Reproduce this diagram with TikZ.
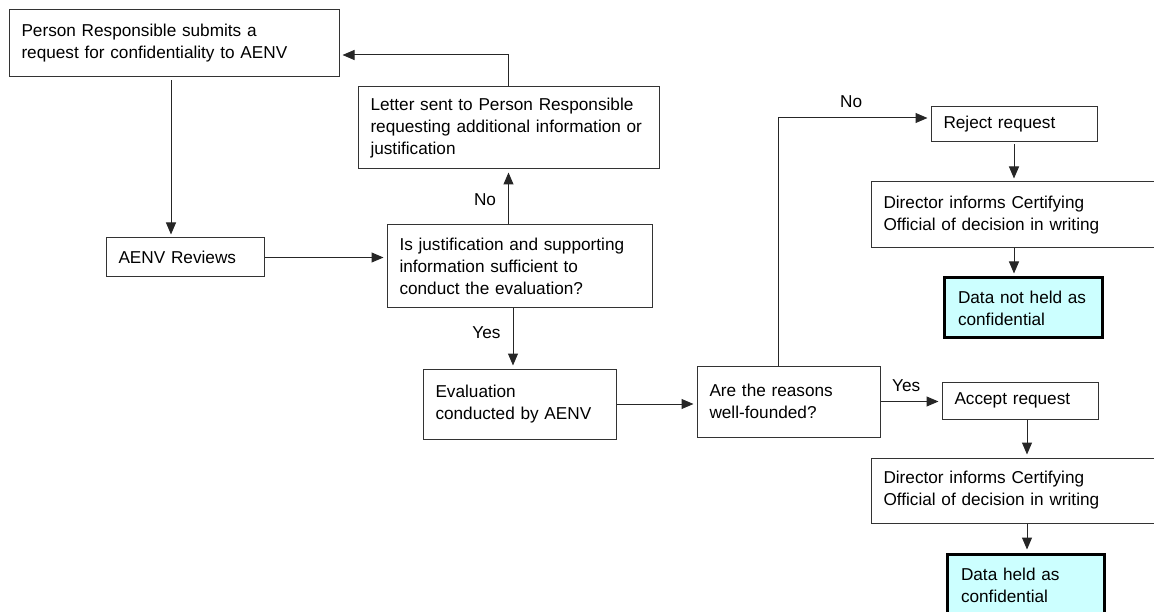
\documentclass[tikz,border=0pt]{standalone}
\usepackage{fontspec}
\setmainfont{Liberation Sans}
\usetikzlibrary{arrows.meta}
\begin{document}
\begin{tikzpicture}[x=1pt,y=-1pt,
  box/.style={draw=black!80, line width=1pt, fill=white, inner xsep=12.5pt, inner ysep=0pt,
    align=left, font=\fontsize{17.2}{22}\selectfont, anchor=center},
  endbox/.style={box, draw=black, line width=3pt, inner xsep=14pt},
  arr/.style={draw=black!85, line width=1pt, -{Triangle[length=12pt,width=10pt]}, shorten >=3pt},
  lbl/.style={font=\fontsize{17.2}{22}\selectfont, inner sep=0pt}]
\useasboundingbox (0,0) rectangle (1154,612);
\clip (0,0) rectangle (1154,612);
\definecolor{endfill}{HTML}{CCFFFF}
\tikzset{endbox/.append style={fill=endfill}}
\newcommand{\bx}[7]{\node[#1, minimum width=#5, minimum height=#6, text width=#7] (#2) at (#3,#4)}
\bx{box}{req}{174}{43.5}{330pt}{67pt}{305pt}{Person Responsible submits a\\request for confidentiality to AENV};
\bx{box}{letter}{508.5}{128}{301pt}{82pt}{276pt}{Letter sent to Person Responsible\\requesting additional information or\\justification};
\bx{box}{rev}{185}{257.5}{158pt}{39pt}{133pt}{AENV Reviews};
\bx{box}{dec}{519.5}{266.5}{265pt}{83pt}{240pt}{Is justification and supporting\\information sufficient to\\conduct the evaluation?};
\bx{box}{eval}{519.5}{404}{193pt}{70pt}{168pt}{Evaluation\\conducted by AENV};
\bx{box}{reas}{788.5}{401.5}{183pt}{71pt}{158pt}{Are the reasons\\well-founded?};
\bx{box}{rej}{1014}{124.5}{166pt}{35pt}{141pt}{Reject request};
\bx{box}{dir1}{1018}{215}{294pt}{66pt}{269pt}{Director informs Certifying\\Official of decision in writing};
\bx{endbox}{nheld}{1023}{308}{158pt}{60pt}{130pt}{Data not held as\\confidential};
\bx{box}{acc}{1020}{400.5}{156pt}{37pt}{131pt}{Accept request};
\bx{box}{dir2}{1018}{490.5}{294pt}{65pt}{269pt}{Director informs Certifying\\Official of decision in writing};
\bx{endbox}{held}{1025.5}{585}{157pt}{62pt}{129pt}{Data held as\\confidential};
\coordinate (ax) at ([xshift=7pt]acc.south);
% connectors
\draw[arr] (letter.north) |- ([yshift=-11.5pt]req.east);
\draw[arr, shorten <=3pt] ([xshift=-3pt]req.south) -- ([xshift=-3pt]req.south |- rev.north);
\draw[arr] (rev.east) -- (rev.east -| dec.west);
\draw[arr] (dec.north -| letter) -- node[lbl, left=12pt, pos=0.45] (no1) {No} (letter.south);
\draw[arr] ([xshift=-6.5pt]dec.south) -- node[lbl, left=12pt, pos=0.4] (yes1) {Yes} ([xshift=-6.5pt]eval.north);
\draw[arr] (eval.east) -- (eval.east -| reas.west);
\draw[arr] ([xshift=-10.5pt]reas.north) |- node[lbl, pos=0.74, above=10pt] (no2) {No} ([yshift=6.5pt]rej.west);
\draw[arr] (reas.east) -- node[lbl, pos=0.42, above=9pt] (yes2) {Yes} (reas.east -| acc.west);
\draw[arr, shorten <=2pt] (rej.south) -- (rej.south |- dir1.north);
\draw[arr] (dir1.south -| rej) -- (rej |- nheld.north);
\draw[arr] (ax) -- (ax |- dir2.north);
\draw[arr] (dir2.south -| ax) -- (ax |- held.north);
\end{tikzpicture}
\end{document}
